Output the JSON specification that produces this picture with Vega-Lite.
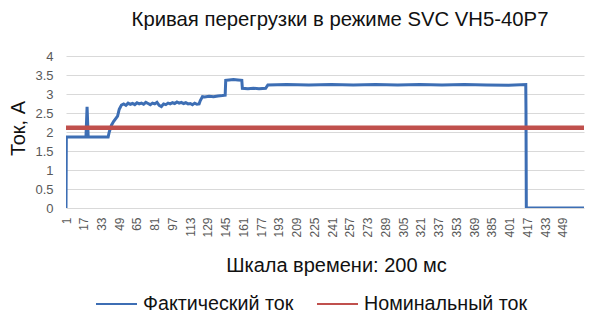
{
  "$schema": "https://vega.github.io/schema/vega-lite/v6.json",
  "autosize": "none",
  "width": 518,
  "height": 152,
  "padding": {"left": 66, "top": 56, "right": 16, "bottom": 124},
  "background": "white",
  "title": {"text": "Кривая перегрузки в режиме SVC VH5-40P7", "anchor": "middle", "dx": 15, "offset": 20, "font": "Liberation Sans", "fontSize": 20.3, "fontWeight": "normal", "color": "#111111"},
  "config": {"view": {"stroke": null}, "font": "Liberation Sans"},
  "data": {"values": [
    {"t": 1, "v": 0, "s": "Фактический ток", "n": 1},
    {"t": 1.3, "v": 1.87, "s": "Фактический ток", "n": 2},
    {"t": 19, "v": 1.87, "s": "Фактический ток", "n": 3},
    {"t": 20, "v": 2.66, "s": "Фактический ток", "n": 4},
    {"t": 21, "v": 1.87, "s": "Фактический ток", "n": 5},
    {"t": 39, "v": 1.87, "s": "Фактический ток", "n": 6},
    {"t": 40, "v": 2.0, "s": "Фактический ток", "n": 7},
    {"t": 42, "v": 2.18, "s": "Фактический ток", "n": 8},
    {"t": 44, "v": 2.28, "s": "Фактический ток", "n": 9},
    {"t": 46, "v": 2.36, "s": "Фактический ток", "n": 10},
    {"t": 47.5, "v": 2.42, "s": "Фактический ток", "n": 11},
    {"t": 49, "v": 2.6, "s": "Фактический ток", "n": 12},
    {"t": 51, "v": 2.71, "s": "Фактический ток", "n": 13},
    {"t": 53, "v": 2.74, "s": "Фактический ток", "n": 14},
    {"t": 55, "v": 2.7, "s": "Фактический ток", "n": 15},
    {"t": 57, "v": 2.76, "s": "Фактический ток", "n": 16},
    {"t": 59, "v": 2.73, "s": "Фактический ток", "n": 17},
    {"t": 61, "v": 2.75, "s": "Фактический ток", "n": 18},
    {"t": 63, "v": 2.72, "s": "Фактический ток", "n": 19},
    {"t": 65, "v": 2.77, "s": "Фактический ток", "n": 20},
    {"t": 67, "v": 2.74, "s": "Фактический ток", "n": 21},
    {"t": 69, "v": 2.76, "s": "Фактический ток", "n": 22},
    {"t": 71, "v": 2.73, "s": "Фактический ток", "n": 23},
    {"t": 73, "v": 2.78, "s": "Фактический ток", "n": 24},
    {"t": 75, "v": 2.75, "s": "Фактический ток", "n": 25},
    {"t": 77, "v": 2.72, "s": "Фактический ток", "n": 26},
    {"t": 79, "v": 2.76, "s": "Фактический ток", "n": 27},
    {"t": 81, "v": 2.74, "s": "Фактический ток", "n": 28},
    {"t": 83, "v": 2.78, "s": "Фактический ток", "n": 29},
    {"t": 85, "v": 2.7, "s": "Фактический ток", "n": 30},
    {"t": 87, "v": 2.67, "s": "Фактический ток", "n": 31},
    {"t": 89, "v": 2.74, "s": "Фактический ток", "n": 32},
    {"t": 91, "v": 2.72, "s": "Фактический ток", "n": 33},
    {"t": 93, "v": 2.76, "s": "Фактический ток", "n": 34},
    {"t": 95, "v": 2.74, "s": "Фактический ток", "n": 35},
    {"t": 97, "v": 2.77, "s": "Фактический ток", "n": 36},
    {"t": 99, "v": 2.75, "s": "Фактический ток", "n": 37},
    {"t": 101, "v": 2.79, "s": "Фактический ток", "n": 38},
    {"t": 103, "v": 2.76, "s": "Фактический ток", "n": 39},
    {"t": 105, "v": 2.78, "s": "Фактический ток", "n": 40},
    {"t": 107, "v": 2.75, "s": "Фактический ток", "n": 41},
    {"t": 109, "v": 2.77, "s": "Фактический ток", "n": 42},
    {"t": 111, "v": 2.74, "s": "Фактический ток", "n": 43},
    {"t": 113, "v": 2.75, "s": "Фактический ток", "n": 44},
    {"t": 115, "v": 2.72, "s": "Фактический ток", "n": 45},
    {"t": 117, "v": 2.76, "s": "Фактический ток", "n": 46},
    {"t": 119, "v": 2.73, "s": "Фактический ток", "n": 47},
    {"t": 121, "v": 2.74, "s": "Фактический ток", "n": 48},
    {"t": 122, "v": 2.82, "s": "Фактический ток", "n": 49},
    {"t": 124, "v": 2.93, "s": "Фактический ток", "n": 50},
    {"t": 126, "v": 2.92, "s": "Фактический ток", "n": 51},
    {"t": 130, "v": 2.94, "s": "Фактический ток", "n": 52},
    {"t": 134, "v": 2.93, "s": "Фактический ток", "n": 53},
    {"t": 138, "v": 2.95, "s": "Фактический ток", "n": 54},
    {"t": 142, "v": 2.96, "s": "Фактический ток", "n": 55},
    {"t": 144.5, "v": 2.97, "s": "Фактический ток", "n": 56},
    {"t": 145, "v": 3.36, "s": "Фактический ток", "n": 57},
    {"t": 148, "v": 3.37, "s": "Фактический ток", "n": 58},
    {"t": 152, "v": 3.38, "s": "Фактический ток", "n": 59},
    {"t": 156, "v": 3.37, "s": "Фактический ток", "n": 60},
    {"t": 159.5, "v": 3.36, "s": "Фактический ток", "n": 61},
    {"t": 160, "v": 3.15, "s": "Фактический ток", "n": 62},
    {"t": 165, "v": 3.14, "s": "Фактический ток", "n": 63},
    {"t": 170, "v": 3.15, "s": "Фактический ток", "n": 64},
    {"t": 175, "v": 3.14, "s": "Фактический ток", "n": 65},
    {"t": 181, "v": 3.15, "s": "Фактический ток", "n": 66},
    {"t": 183, "v": 3.24, "s": "Фактический ток", "n": 67},
    {"t": 200, "v": 3.25, "s": "Фактический ток", "n": 68},
    {"t": 220, "v": 3.24, "s": "Фактический ток", "n": 69},
    {"t": 240, "v": 3.25, "s": "Фактический ток", "n": 70},
    {"t": 260, "v": 3.24, "s": "Фактический ток", "n": 71},
    {"t": 280, "v": 3.25, "s": "Фактический ток", "n": 72},
    {"t": 300, "v": 3.24, "s": "Фактический ток", "n": 73},
    {"t": 320, "v": 3.25, "s": "Фактический ток", "n": 74},
    {"t": 340, "v": 3.24, "s": "Фактический ток", "n": 75},
    {"t": 360, "v": 3.25, "s": "Фактический ток", "n": 76},
    {"t": 380, "v": 3.24, "s": "Фактический ток", "n": 77},
    {"t": 400, "v": 3.23, "s": "Фактический ток", "n": 78},
    {"t": 415.5, "v": 3.25, "s": "Фактический ток", "n": 79},
    {"t": 415.7, "v": 2.55, "s": "Фактический ток", "n": 80},
    {"t": 416, "v": 0, "s": "Фактический ток", "n": 81},
    {"t": 468, "v": 0, "s": "Фактический ток", "n": 82},
    {"t": 1, "v": 2.11, "s": "Номинальный ток", "n": 1},
    {"t": 468, "v": 2.11, "s": "Номинальный ток", "n": 2}
  ]},
  "encoding": {
    "x": {"field": "t", "type": "quantitative",
      "scale": {"domain": [1, 468], "nice": false, "zero": false},
      "axis": {"values": [1,17,33,49,65,81,97,113,129,145,161,177,193,209,225,241,257,273,289,305,321,337,353,369,385,401,417,433,449],
        "labelAngle": -90, "labelAlign": "right", "labelBaseline": "middle", "labelFontSize": 12, "labelColor": "#595959", "labelPadding": 9,
        "ticks": false, "domain": false, "grid": false, "labelFlush": false, "labelOverlap": false,
        "title": "Шкала времени: 200 мс", "titleFontSize": 20, "titleFontWeight": "normal", "titleColor": "#111111",
        "titleX": 270, "titleY": 57, "titleBaseline": "middle", "titleAnchor": null}},
    "y": {"field": "v", "type": "quantitative",
      "scale": {"domain": [0, 4], "nice": false},
      "axis": {"values": [0,0.5,1,1.5,2,2.5,3,3.5,4], "format": "~g", "ticks": false, "domain": false, "grid": true, "gridColor": "#D9D9D9", "gridWidth": 1,
        "labelFontSize": 13, "labelColor": "#595959", "labelPadding": 13,
        "title": "Ток, А", "titleFontSize": 20, "titleFontWeight": "normal", "titleColor": "#111111",
        "titleX": -48, "titleY": 72, "titleBaseline": "middle", "titleAngle": -90}},
    "color": {"field": "s", "type": "nominal",
      "scale": {"domain": ["Фактический ток", "Номинальный ток"], "range": ["#3D6EB4", "#C0504D"]},
      "legend": {"title": null, "orient": "none", "legendX": 29, "legendY": 226, "direction": "horizontal",
        "symbolType": "stroke", "symbolSize": 1681, "symbolStrokeWidth": 2, "labelFontSize": 19.7, "labelColor": "#111111",
        "labelOffset": 5, "columnPadding": 19, "labelLimit": 300,
        "encode": {"symbols": {"update": {"strokeWidth": {"value": 2}}}}}},
    "order": {"field": "n", "type": "quantitative"}
  },
  "layer": [
    {"transform": [{"filter": "datum.s === 'Фактический ток'"}],
     "mark": {"type": "line", "strokeWidth": 3, "strokeJoin": "miter", "strokeCap": "butt", "clip": true}},
    {"transform": [{"filter": "datum.s === 'Номинальный ток'"}],
     "mark": {"type": "line", "strokeWidth": 4.5, "strokeCap": "butt", "clip": true}}
  ]
}
